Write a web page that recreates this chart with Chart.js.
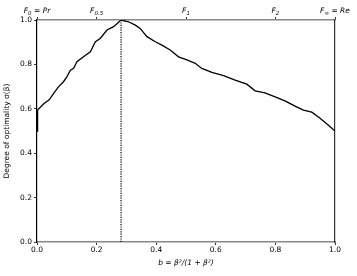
<!DOCTYPE html>
<html>
<head>
<meta charset="utf-8">
<script src="https://cdn.jsdelivr.net/npm/chart.js@4/dist/chart.umd.min.js"></script>
<style>
html,body{margin:0;padding:0;background:#fff;}
#wrap{width:357px;height:276px;}
</style>
</head>
<body>
<div id="wrap"><canvas id="c" width="357" height="276"></canvas></div>
<script>
const bValues = [0, 0.002, 0.0235, 0.04, 0.056, 0.072, 0.089, 0.1, 0.112, 0.123, 0.134, 0.156, 0.179, 0.196, 0.212, 0.235, 0.257, 0.282, 0.307, 0.33, 0.346, 0.369, 0.397, 0.419, 0.447, 0.475, 0.503, 0.531, 0.553, 0.587, 0.626, 0.665, 0.704, 0.732, 0.765, 0.799, 0.832, 0.866, 0.894, 0.922, 0.95, 0.978, 1.0];
const optimality = [0.50, 0.594, 0.624, 0.639, 0.669, 0.699, 0.722, 0.744, 0.774, 0.782, 0.812, 0.834, 0.857, 0.902, 0.917, 0.955, 0.970, 1.0, 0.992, 0.977, 0.962, 0.925, 0.902, 0.887, 0.865, 0.834, 0.82, 0.805, 0.782, 0.764, 0.749, 0.729, 0.711, 0.681, 0.672, 0.654, 0.636, 0.612, 0.594, 0.585, 0.557, 0.526, 0.50];
const peakB = 0.282;
const xTicks = [0, 0.2, 0.4, 0.6, 0.8, 1.0];
const yTicks = [0, 0.2, 0.4, 0.6, 0.8, 1.0];
const topTickPos = [0, 0.2, 0.5, 0.8, 1.0];
const topTickMain = ['F', 'F', 'F', 'F', 'F'];
const topTickSub = ['0', '0.5', '1', '2', '\u221E'];
const topTickSuffix = [' = Pr', '', '', '', ' = Re'];

const curve = bValues.map((b, i) => ({x: b, y: optimality[i]}));
const peakLine = [{x: peakB, y: 0}, {x: peakB, y: 1}];

const FONT = 'DejaVu Sans';
const tickFont = {family: FONT, size: 7.5};

const topLabelPlugin = {
  id: 'topLabels',
  afterDraw(chart) {
    const s = chart.scales.xTop;
    const ctx = chart.ctx;
    ctx.save();
    ctx.fillStyle = '#000';
    ctx.textBaseline = 'alphabetic';
    ctx.textAlign = 'left';
    const mainF = 'italic 7.5px "DejaVu Sans"';
    const subF = 'italic 5.5px "DejaVu Sans"';
    const baseY = 13;
    topTickPos.forEach((p, i) => {
      ctx.font = mainF;
      const w1 = ctx.measureText(topTickMain[i]).width;
      const w3 = ctx.measureText(topTickSuffix[i]).width;
      ctx.font = subF;
      const w2 = ctx.measureText(topTickSub[i]).width;
      const total = w1 + w2 + w3;
      let x = s.getPixelForValue(p) - total / 2;
      ctx.font = mainF;
      ctx.fillText(topTickMain[i], x, baseY);
      x += w1;
      ctx.font = subF;
      ctx.fillText(topTickSub[i], x, baseY + 1.8);
      x += w2;
      ctx.font = mainF;
      ctx.fillText(topTickSuffix[i], x, baseY);
    });
    ctx.restore();
  }
};

new Chart(document.getElementById('c'), {
  type: 'scatter',
  data: {
    datasets: [
      {data: curve, showLine: true, borderColor: '#000', borderWidth: 1.3, pointRadius: 0, tension: 0, xAxisID: 'x', yAxisID: 'y'},
      {data: peakLine, showLine: true, borderColor: '#000', borderWidth: 1.2, borderDash: [1.2, 1.2], pointRadius: 0, xAxisID: 'x', yAxisID: 'y'}
    ]
  },
  plugins: [topLabelPlugin],
  options: {
    responsive: false,
    animation: false,
    events: [],
    layout: {padding: 0},
    plugins: {legend: {display: false}, tooltip: {enabled: false}},
    scales: {
      x: {
        type: 'linear', position: 'bottom', min: 0, max: 1,
        afterBuildTicks: s => { s.ticks = xTicks.map(v => ({value: v})); },
        afterFit: s => { s.height = 34; },
        ticks: {font: tickFont, color: '#000', padding: 1, maxRotation: 0, callback: v => v.toFixed(1)},
        grid: {drawOnChartArea: false, drawTicks: true, tickLength: 3, color: '#000', tickWidth: 0.8},
        border: {display: true, color: '#888', width: 1.6},
        title: {display: true, text: 'b = \u03B2\u00B2/(1 + \u03B2\u00B2)', font: {family: FONT, size: 7.5, style: 'italic'}, color: '#000', padding: {top: 0, bottom: 8}}
      },
      xTop: {
        type: 'linear', position: 'top', min: 0, max: 1,
        afterBuildTicks: s => { s.ticks = topTickPos.map(v => ({value: v})); },
        afterFit: s => { s.height = 20; },
        ticks: {font: tickFont, color: 'rgba(0,0,0,0)', padding: 2, maxRotation: 0, autoSkip: false, callback: () => ' '},
        grid: {drawOnChartArea: false, drawTicks: true, tickLength: 3, color: '#000', tickWidth: 0.8},
        border: {display: true, color: '#888', width: 1.6}
      },
      y: {
        type: 'linear', position: 'left', min: 0, max: 1,
        afterBuildTicks: s => { s.ticks = yTicks.map(v => ({value: v})); },
        afterFit: s => { s.width = 37; },
        ticks: {font: tickFont, color: '#000', padding: 2, callback: v => v.toFixed(1)},
        grid: {drawOnChartArea: false, drawTicks: true, tickLength: 3, color: '#000', tickWidth: 0.8},
        border: {display: true, color: '#000', width: 1.2},
        title: {display: true, text: 'Degree of optimality \u03C3(\u03B2)', font: {family: FONT, size: 7.5}, color: '#000', padding: {top: 3, bottom: 0}}
      },
      yRight: {
        type: 'linear', position: 'right', min: 0, max: 1,
        afterFit: s => { s.width = 22; },
        ticks: {display: false},
        grid: {display: false},
        border: {display: true, color: '#333', width: 1.2}
      }
    }
  }
});
</script>
</body>
</html>
